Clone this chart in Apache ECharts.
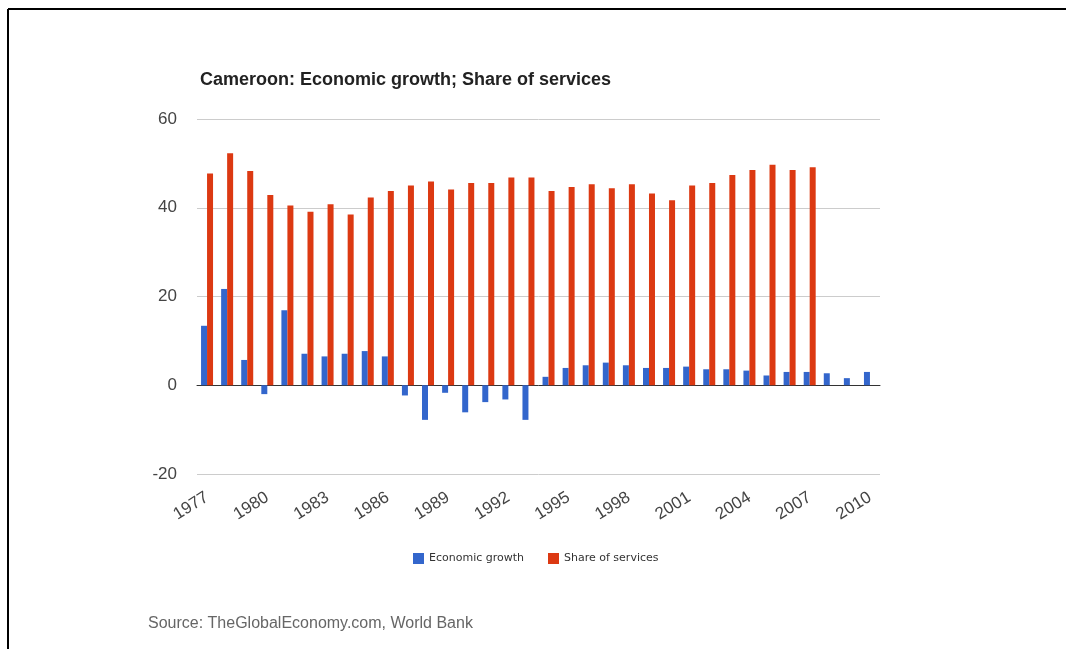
<!DOCTYPE html>
<html>
<head>
<meta charset="utf-8">
<script src="https://cdn.jsdelivr.net/npm/echarts@6/dist/echarts.min.js"></script>
<style>
  html, body { margin: 0; padding: 0; background: #fff; }
  #main { width: 1066px; height: 649px; }
</style>
</head>
<body>
<div id="main"></div>
<script>
const years = [];
for (let y = 1977; y <= 2010; y++) years.push(String(y));

const growth = [13.4, 21.7, 5.7, -2.0, 16.9, 7.1, 6.5, 7.1, 7.7, 6.5,
  -2.3, -7.8, -1.7, -6.1, -3.8, -3.2, -7.8, 1.9, 3.9, 4.5,
  5.1, 4.5, 3.9, 3.9, 4.2, 3.6, 3.6, 3.3, 2.2, 3.0,
  3.0, 2.7, 1.6, 3.0];

const services = [47.7, 52.3, 48.3, 42.9, 40.5, 39.1, 40.8, 38.5, 42.3, 43.8,
  45.0, 45.9, 44.1, 45.6, 45.6, 46.8, 46.8, 43.8, 44.7, 45.3,
  44.4, 45.3, 43.2, 41.7, 45.0, 45.6, 47.4, 48.5, 49.7, 48.5,
  49.1, null, null, null];

const yTicks = { min: -20, max: 60, interval: 20 };

const arial = "'Liberation Sans', Arial, sans-serif";

const chart = echarts.init(document.getElementById("main"));
chart.setOption({
  animation: false,
  title: [
    {
      text: "Cameroon: Economic growth; Share of services",
      left: 195,
      top: 66,
      textStyle: { fontFamily: arial, fontSize: 18, fontWeight: "bold", color: "#222" }
    },
    {
      text: "Source: TheGlobalEconomy.com, World Bank",
      left: 143,
      top: 611,
      textStyle: { fontFamily: arial, fontSize: 16, fontWeight: "normal", color: "#666" }
    }
  ],
  legend: {
    data: ["Economic growth", "Share of services"],
    left: 408,
    top: 548,
    itemWidth: 11,
    itemHeight: 11,
    itemGap: 24,
    icon: "rect",
    textStyle: { fontFamily: "DejaVu Sans", fontSize: 11, color: "#333" }
  },
  grid: { left: 197, right: 186, top: 119, bottom: 175, containLabel: false },
  xAxis: {
    type: "category",
    data: years,
    axisTick: { show: false },
    axisLine: { onZero: true, lineStyle: { color: "#333", width: 1 } },
    axisLabel: {
      interval: 2,
      rotate: 32,
      margin: 22,
      color: "#444",
      fontFamily: arial,
      fontSize: 17
    }
  },
  yAxis: {
    type: "value",
    min: yTicks.min,
    max: yTicks.max,
    interval: yTicks.interval,
    axisLine: { show: false },
    axisTick: { show: false },
    splitLine: { lineStyle: { color: "#ccc" } },
    axisLabel: { margin: 20, color: "#444", fontFamily: arial, fontSize: 17 }
  },
  series: [
    {
      name: "Economic growth",
      type: "bar",
      data: growth,
      barWidth: 6,
      barGap: "0%",
      itemStyle: { color: "#3366cc" }
    },
    {
      name: "Share of services",
      type: "bar",
      data: services,
      barWidth: 6,
      itemStyle: { color: "#dc3912" }
    }
  ],
  graphic: [
    { type: "line", shape: { x1: 8, y1: 9, x2: 1066, y2: 9 }, style: { stroke: "#000", lineWidth: 2 } },
    { type: "line", shape: { x1: 8, y1: 9, x2: 8, y2: 649 }, style: { stroke: "#000", lineWidth: 2 } }
  ]
});
</script>
</body>
</html>
